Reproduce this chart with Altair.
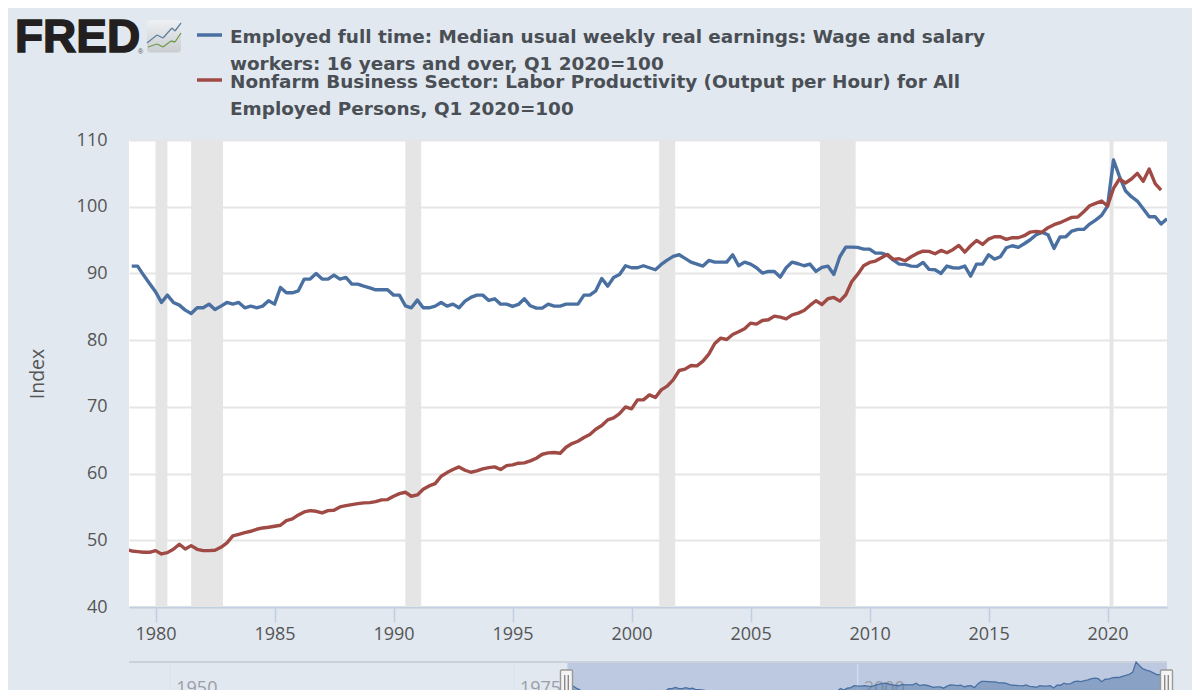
import altair as alt
import pandas as pd

BG = "#e1e8f0"
BLUE = "#4a70a2"
RED = "#a04a45"
FONT = "Open Sans"

blue_values = [
 91.1,91.1,89.75,88.5,87.25,85.65,86.75,85.65,85.25,84.5,84.0,84.85,84.85,85.4,84.6,85.1,85.65,85.4,85.65,84.85,
 85.1,84.85,85.1,85.9,85.4,87.9,87.1,87.1,87.4,89.15,89.15,90.0,89.15,89.15,89.75,89.15,89.4,88.4,88.4,88.1,
 87.85,87.55,87.55,87.55,86.75,86.75,85.15,84.85,86.0,84.85,84.85,85.1,85.65,85.1,85.4,84.85,85.85,86.4,86.75,86.75,
 85.95,86.2,85.4,85.4,85.05,85.35,86.2,85.15,84.8,84.8,85.4,85.1,85.1,85.4,85.4,85.4,86.75,86.75,87.4,89.25,
 88.1,89.4,89.85,91.15,90.85,90.85,91.15,90.85,90.55,91.35,92.0,92.55,92.8,92.25,91.7,91.4,91.1,91.95,91.7,91.7,
 91.7,92.8,91.15,91.7,91.4,90.85,90.05,90.3,90.3,89.45,90.85,91.7,91.45,91.15,91.4,90.3,90.9,91.1,89.85,92.5,
 93.95,93.95,93.9,93.65,93.65,93.05,93.05,92.75,92.0,91.4,91.35,91.1,91.05,91.65,90.6,90.55,90.0,91.1,90.85,90.8,
 91.1,89.6,91.4,91.4,92.8,92.15,92.5,93.85,94.15,93.9,94.45,95.05,95.8,96.15,95.8,93.75,95.45,95.5,96.35,96.6,
 96.6,97.4,98.0,98.7,100.1,107.0,104.55,102.4,101.5,100.85,99.7,98.5,98.5,97.4,98.2]

red_values = [
 48.6,48.4,48.3,48.2,48.2,48.45,47.95,48.15,48.65,49.4,48.7,49.2,48.65,48.45,48.45,48.5,48.95,49.6,50.65,50.9,
 51.15,51.35,51.65,51.85,51.95,52.1,52.25,52.95,53.2,53.8,54.25,54.45,54.35,54.1,54.45,54.5,55.0,55.2,55.35,55.5,
 55.6,55.65,55.8,56.05,56.1,56.6,57.0,57.2,56.6,56.8,57.65,58.15,58.5,59.6,60.15,60.6,61.0,60.5,60.2,60.4,
 60.7,60.9,61.0,60.6,61.2,61.3,61.55,61.6,61.9,62.3,62.9,63.1,63.15,63.05,63.95,64.5,64.85,65.4,65.85,66.65,
 67.2,68.05,68.35,69.0,70.0,69.7,71.05,71.05,71.8,71.4,72.55,73.1,74.05,75.45,75.65,76.2,76.15,76.85,77.9,79.5,
 80.3,80.1,80.85,81.25,81.7,82.55,82.4,82.95,83.05,83.6,83.45,83.2,83.8,84.05,84.45,85.2,85.9,85.35,86.2,86.4,
 85.85,86.8,88.75,89.85,91.15,91.65,91.85,92.35,92.85,92.1,92.2,91.9,92.5,93.0,93.35,93.3,92.95,93.45,93.1,93.55,
 94.2,93.2,94.15,94.95,94.35,95.15,95.5,95.5,95.1,95.35,95.35,95.65,96.2,96.3,96.2,96.85,97.3,97.6,98.0,98.4,
 98.45,99.25,100.15,100.5,100.85,100.1,102.75,104.15,103.55,104.15,105.0,103.8,105.65,103.45,102.5]

recession_start = ["1980-01-01","1981-07-01","1990-07-01","2001-03-01","2007-12-01","2020-02-01"]
recession_end   = ["1980-07-01","1982-11-01","1991-03-01","2001-11-01","2009-06-01","2020-04-01"]

blue_name = "Employed full time: Median usual weekly real earnings: Wage and salary workers: 16 years and over, Q1 2020=100"
red_name = "Nonfarm Business Sector: Labor Productivity (Output per Hour) for All Employed Persons, Q1 2020=100"
legend_lines = [
 "Employed full time: Median usual weekly real earnings: Wage and salary",
 "workers: 16 years and over, Q1 2020=100",
 "Nonfarm Business Sector: Labor Productivity (Output per Hour) for All",
 "Employed Persons, Q1 2020=100",
]
nav_labels = ["1950", "1975", "2000"]

blue_df = pd.DataFrame({"date": pd.date_range("1979-01-01", periods=len(blue_values), freq="QS").strftime("%Y-%m-%d"),
                        "value": blue_values, "series": blue_name})
red_df = pd.DataFrame({"date": pd.date_range("1978-10-01", periods=len(red_values), freq="QS").strftime("%Y-%m-%d"),
                       "value": red_values, "series": red_name})
rec_df = pd.DataFrame({"start": recession_start, "end": recession_end})
nav_df = pd.DataFrame({"date": [f"{y}-01-01" for y in nav_labels], "label": nav_labels})
sel_df = pd.DataFrame({"start": ["1978-11-20"], "end": ["2022-07-01"]})

one = alt.Data(values=[{}])
W, H = 1038, 467
X0, Y0 = 129, 140  # page position of the plot area


def vx(px):
    return alt.value(px - X0)


def vy(py):
    return alt.value(py - Y0)


x_scale = alt.Scale(domain=["1978-11-20", "2022-07-01"])
x_axis = alt.Axis(
    tickCount={"interval": "year", "step": 5}, format="%Y", grid=False, domainColor="#c0d0e0", domainWidth=2,
    tickColor="#c0d0e0", tickWidth=1.5, tickSize=15, labelFontSize=18, labelColor="#555555", labelFont=FONT,
    labelPadding=3, labelFlush=False)
x_top = alt.X("date:T", scale=x_scale, title=None, axis=x_axis)
y_top = alt.Y("value:Q", scale=alt.Scale(domain=[40, 110]), title="Index", axis=alt.Axis(
    values=list(range(40, 111, 10)), domain=False, ticks=False, gridColor="#e6e6e6", gridWidth=2,
    labelFontSize=18, labelColor="#555555", labelFont=FONT, labelPadding=22,
    titleFontSize=19.5, titleFontWeight="normal", titleColor="#555555", titleFont=FONT, titlePadding=29))

anchor = alt.Chart(one).mark_rect(opacity=0).encode(x=vx(8), x2=vx(1192), y=vy(8), y2=vy(600))
bars = alt.Chart(rec_df).mark_rect(color="#e5e5e5").encode(
    x=alt.X("start:T", scale=x_scale, axis=x_axis, title=None), x2="end:T")
lines = alt.Chart(pd.concat([blue_df, red_df])).mark_line(strokeWidth=3.4, clip=True, strokeJoin="round").encode(
    x=x_top, y=y_top,
    color=alt.Color("series:N", scale=alt.Scale(domain=[blue_name, red_name], range=[BLUE, RED]), legend=None),
    detail="series:N")


def legend_text(text, baseline_y):
    return alt.Chart(one).mark_text(align="left", baseline="alphabetic", font="DejaVu Sans", fontSize=18.4,
                                    fontWeight="bold", color="#4a4f55").encode(
        x=vx(230), y=vy(baseline_y), text=alt.value(text))


def rule(color, width, x1, y1, x2, y2):
    return alt.Chart(one).mark_rule(color=color, strokeWidth=width).encode(
        x=vx(x1), x2=vx(x2), y=vy(y1), y2=vy(y2))


legend = [
    rule(BLUE, 3.5, 197, 35, 222, 35), rule(RED, 3.5, 197, 80, 222, 80),
    legend_text(legend_lines[0], 43), legend_text(legend_lines[1], 70),
    legend_text(legend_lines[2], 88), legend_text(legend_lines[3], 115),
]

logo_text = alt.Chart(one).mark_text(align="left", baseline="alphabetic", font="Liberation Sans", fontSize=46,
                                     fontWeight="bold", color="#231f20", stroke="#231f20", strokeWidth=1.5).encode(
    x=vx(15), y=vy(52), text=alt.value("FRED"))
logo_reg = alt.Chart(one).mark_text(align="left", baseline="alphabetic", font="Liberation Sans", fontSize=7,
                                    color="#555555").encode(x=vx(138), y=vy(54), text=alt.value("®"))
logo_box = alt.Chart(one).mark_rect(
    color=alt.Gradient(gradient="linear", x1=0, y1=0, x2=0, y2=1,
                       stops=[alt.GradientStop(color="#eef1f3", offset=0), alt.GradientStop(color="#c9cdd0", offset=1)]),
    cornerRadius=3).encode(x=vx(147), x2=vx(181), y=vy(20), y2=vy(52.5))
logo_blue = [(147, 43), (157, 35), (163, 38), (172, 28), (175, 31), (181, 23)]
logo_green = [(148, 47), (157, 44), (163, 47), (171, 41), (175, 42), (181, 33)]
logo_rules = [rule("#5f7f9f", 1.3, *a, *b) for a, b in zip(logo_blue, logo_blue[1:])] + \
             [rule("#6f9a4a", 1.3, *a, *b) for a, b in zip(logo_green, logo_green[1:])]

top = alt.layer(anchor, bars, lines, logo_box, *logo_rules, logo_text, logo_reg, *legend).properties(
    width=W, height=H, view=alt.ViewConfig(fill="white", stroke=None))

# navigator strip under the plot
NH = 39
nav_x = alt.Scale(domain=["1947-01-01", "2022-07-01"])
nav_y = alt.Scale(domain=[81.5, 107.7], zero=False)
nav_common = dict(axis=None, title=None)
strip = alt.Chart(one).mark_rect(color="#ccd2dc").encode(x=alt.value(0), x2=alt.value(W), y=alt.value(0), y2=alt.value(2))
sel = alt.Chart(sel_df).mark_rect(color="#bcc9e0").encode(
    x=alt.X("start:T", scale=nav_x, **nav_common), x2="end:T", y=alt.value(2), y2=alt.value(NH))
nav_grid = alt.Chart(nav_df).mark_rule(color="#dbe2ec", strokeWidth=1).encode(
    x=alt.X("date:T", scale=nav_x, **nav_common), y=alt.value(3), y2=alt.value(NH))
nav_text = alt.Chart(nav_df).mark_text(align="left", baseline="alphabetic", dx=6, font=FONT, fontSize=18,
                                       color="#9a9fa6").encode(
    x=alt.X("date:T", scale=nav_x, **nav_common), y=alt.value(33), text="label:N")
nav_area = alt.Chart(blue_df).mark_area(color="#4a70a2", opacity=0.45, clip=True).encode(
    x=alt.X("date:T", scale=nav_x, **nav_common), y=alt.Y("value:Q", scale=nav_y, **nav_common))
nav_line = alt.Chart(blue_df).mark_line(color="#4a70a2", strokeWidth=1.3, clip=True).encode(
    x=alt.X("date:T", scale=nav_x, **nav_common), y=alt.Y("value:Q", scale=nav_y, **nav_common))


def handle(cx):
    r = cx - X0
    return [
        alt.Chart(one).mark_rect(fill="#f4f4f4", stroke="#999999", strokeWidth=1.4, cornerRadius=1).encode(
            x=alt.value(r - 6), x2=alt.value(r + 6), y=alt.value(9), y2=alt.value(NH + 6)),
        alt.Chart(one).mark_rule(color="#8a8a8a", strokeWidth=1.4).encode(x=alt.value(r - 1.8), y=alt.value(14), y2=alt.value(NH)),
        alt.Chart(one).mark_rule(color="#8a8a8a", strokeWidth=1.4).encode(x=alt.value(r + 1.8), y=alt.value(14), y2=alt.value(NH)),
    ]


nav = alt.layer(strip, sel, nav_grid, nav_text, nav_area, nav_line, *handle(566.5), *handle(1166.5)).properties(
    width=W, height=NH, view=alt.ViewConfig(stroke=None))

chart = alt.vconcat(top, nav, spacing=54, bounds="flush").resolve_scale(x="independent", y="independent", color="independent").properties(
    background=BG, padding=0,
).configure_view(stroke=None)

chart.save("out.html", embed_options={"renderer": "svg", "actions": False})
